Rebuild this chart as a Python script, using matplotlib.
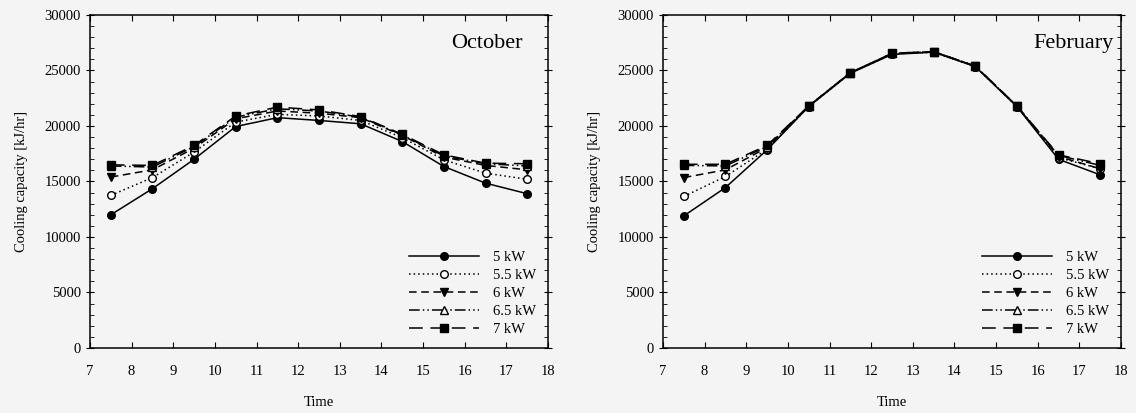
import matplotlib
matplotlib.use('Agg')
import matplotlib.pyplot as plt
from matplotlib.ticker import MultipleLocator

plt.rcParams['font.family'] = ['Liberation Serif', 'DejaVu Serif']

# data
hours = [7.5, 8.5, 9.5, 10.5, 11.5, 12.5, 13.5, 14.5, 15.5, 16.5, 17.5]
series_labels = ['5 kW', '5.5 kW', '6 kW', '6.5 kW', '7 kW']

oct_5 = [12000, 14350, 17000, 19950, 20750, 20500, 20200, 18600, 16350, 14850, 13900]
oct_55 = [13750, 15350, 17650, 20350, 21050, 20900, 20500, 18950, 16950, 15750, 15200]
oct_6 = [15400, 16050, 18000, 20650, 21350, 21150, 20750, 19150, 17200, 16450, 16050]
oct_65 = [16400, 16300, 18150, 20800, 21550, 21350, 20800, 19200, 17300, 16600, 16400]
oct_7 = [16500, 16450, 18250, 20900, 21700, 21450, 20850, 19250, 17400, 16650, 16600]

feb_5 = [11900, 14450, 17850, 21750, 24750, 26450, 26650, 25350, 21750, 17000, 15600]
feb_55 = [13650, 15450, 17900, 21750, 24750, 26500, 26650, 25350, 21750, 17150, 16150]
feb_6 = [15350, 16050, 18050, 21800, 24800, 26500, 26700, 25400, 21800, 17250, 16150]
feb_65 = [16450, 16400, 18150, 21800, 24800, 26550, 26700, 25400, 21800, 17350, 16450]
feb_7 = [16550, 16550, 18250, 21800, 24800, 26550, 26700, 25400, 21800, 17400, 16600]

months = ['October', 'February']
month_data = [[oct_5, oct_55, oct_6, oct_65, oct_7],
              [feb_5, feb_55, feb_6, feb_65, feb_7]]

styles = [
    dict(linestyle='-', marker='o', markerfacecolor='black'),
    dict(linestyle=(0, (1, 2)), marker='o', markerfacecolor='white'),
    dict(linestyle=(0, (5, 3)), marker='v', markerfacecolor='black'),
    dict(linestyle=(0, (7, 2, 1, 2, 1, 2)), marker='^', markerfacecolor='white'),
    dict(linestyle=(0, (9, 5)), marker='s', markerfacecolor='black'),
]

bg = '#f4f4f4'
fig = plt.figure(figsize=(11.36, 4.13), dpi=100, facecolor=bg)
lefts = [0.0792, 0.5836]
month_x = [0.945, 0.983]

for k in range(2):
    ax = fig.add_axes([lefts[k], 0.1574, 0.4032, 0.8063])
    ax.set_facecolor(bg)
    for vals, lab, st in zip(month_data[k], series_labels, styles):
        ax.plot(hours, vals, color='black', lw=1.1, markersize=5.5,
                markeredgecolor='black', markeredgewidth=1.0, label=lab, **st)
    ax.set_xlim(7, 18)
    ax.set_ylim(0, 30000)
    ax.xaxis.set_major_locator(MultipleLocator(1))
    ax.yaxis.set_major_locator(MultipleLocator(5000))
    ax.yaxis.set_minor_locator(MultipleLocator(1000))
    ax.tick_params(axis='x', which='major', direction='in', top=True, length=4,
                   labelsize=10.5, pad=12)
    ax.tick_params(axis='y', which='major', direction='inout', right=True, length=6,
                   labelsize=10.5)
    ax.tick_params(axis='y', which='minor', direction='in', right=True, length=3)
    for s in ax.spines.values():
        s.set_linewidth(1.1)
    ax.set_xlabel('Time', fontsize=10.5, labelpad=13)
    ax.set_ylabel('Cooling capacity [kJ/hr]', fontsize=10.5, labelpad=12)
    ax.text(month_x[k], 0.913, months[k], transform=ax.transAxes, ha='right',
            va='center', fontsize=16)
    ax.legend(loc='lower right', frameon=False, fontsize=10.5, handlelength=4.8,
              handletextpad=1.0, labelspacing=0.33, borderaxespad=0.4)

fig.savefig('out.png', dpi=100, facecolor=bg)
